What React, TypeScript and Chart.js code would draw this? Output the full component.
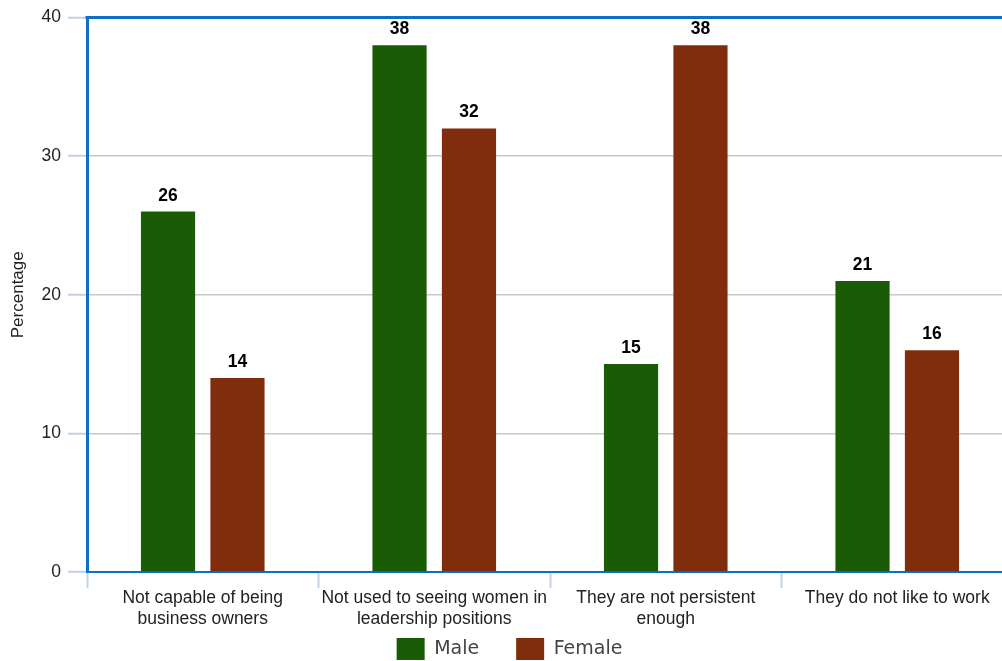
import React, { useEffect, useRef } from "react";
import { Chart, registerables } from "chart.js";

Chart.register(...registerables);

const categories: string[][] = [
  ["Not capable of being", "business owners"],
  ["Not used to seeing women in", "leadership positions"],
  ["They are not persistent", "enough"],
  ["They do not like to work"],
];
const maleValues = [26, 38, 15, 21];
const femaleValues = [14, 32, 38, 16];
const yTicks = [0, 10, 20, 30, 40];
const yTitle = "Percentage";
const seriesNames = ["Male", "Female"];

const BLUE = "#0c70c6";
const TICK_BLUE = "#c3d2e3";
const LEGEND_H = 38;
const LEGEND_BOX_OFFSET = 6;
const LEGEND_X_SHIFT = 3;

const valueLabels = {
  id: "valueLabels",
  afterDatasetsDraw(chart: any) {
    const ctx = chart.ctx;
    ctx.save();
    ctx.font = "bold 17.5px 'Liberation Sans', Arial, sans-serif";
    ctx.fillStyle = "#000";
    ctx.textAlign = "center";
    ctx.textBaseline = "alphabetic";
    chart.data.datasets.forEach((ds: any, di: number) => {
      const meta = chart.getDatasetMeta(di);
      meta.data.forEach((bar: any, i: number) => {
        ctx.fillText(String(ds.data[i]), bar.x, bar.y - 11);
      });
    });
    ctx.restore();
  },
};

const topBorder = {
  id: "topBorder",
  afterDraw(chart: any) {
    const { ctx, chartArea } = chart;
    ctx.save();
    ctx.strokeStyle = BLUE;
    ctx.lineWidth = 3;
    ctx.beginPath();
    ctx.moveTo(chartArea.left - 1.5, chartArea.top);
    ctx.lineTo(chartArea.right, chartArea.top);
    ctx.stroke();
    ctx.restore();
  },
};

const legendLayout = {
  id: "legendLayout",
  beforeLayout(chart: any) {
    const lg = chart.legend;
    if (lg && !lg.__patched) {
      const orig = lg.fit;
      lg.fit = function () {
        orig.call(this);
        this.height = LEGEND_H;
      };
      lg.__patched = true;
    }
  },
  afterLayout(chart: any) {
    const lg = chart.legend;
    if (lg) {
      const pad = lg.options.labels.padding;
      const bottom = lg.bottom;
      lg.top = lg.top + LEGEND_BOX_OFFSET - pad;
      lg.bottom = bottom;
      lg.height = bottom - lg.top;
      lg.left += LEGEND_X_SHIFT;
      lg.right += LEGEND_X_SHIFT;
    }
  },
};

export default function App() {
  const ref = useRef<HTMLCanvasElement>(null);
  useEffect(() => {
    if (!ref.current) return;
    const chart = new Chart(ref.current, {
      type: "bar",
      data: {
        labels: categories,
        datasets: [
          {
            label: seriesNames[0],
            data: maleValues,
            backgroundColor: "#1a5b06",
            categoryPercentage: 0.6,
            barPercentage: 0.78,
          },
          {
            label: seriesNames[1],
            data: femaleValues,
            backgroundColor: "#7f2d0d",
            categoryPercentage: 0.6,
            barPercentage: 0.78,
          },
        ],
      },
      options: {
        animation: false,
        responsive: false,
        devicePixelRatio: 1,
        layout: { padding: { top: 16, right: 6, left: 0, bottom: 0 } },
        plugins: {
          tooltip: { enabled: false },
          legend: {
            position: "bottom",
            labels: {
              boxWidth: 28,
              boxHeight: 22,
              padding: 37,
              color: "#444",
              font: { family: "'DejaVu Sans', sans-serif", size: 19, lineHeight: 1 },
            },
          },
        },
        scales: {
          x: {
            afterFit(scale: any) {
              scale.height = 60;
            },
            grid: {
              display: true,
              drawOnChartArea: false,
              drawTicks: true,
              tickLength: 16,
              tickColor: TICK_BLUE,
              tickWidth: 2,
              offset: true,
            },
            border: { display: true, color: BLUE, width: 2 },
            ticks: {
              color: "#222",
              padding: 0,
              maxRotation: 0,
              autoSkip: false,
              font: { family: "'Liberation Sans', Arial, sans-serif", size: 17.5, lineHeight: 1.2 },
            },
          },
          y: {
            min: 0,
            max: 40,
            afterFit(scale: any) {
              scale.width = 87;
            },
            afterBuildTicks(scale: any) {
              scale.ticks = yTicks.map((v) => ({ value: v }));
            },
            grid: {
              color: "#c8c8c8",
              lineWidth: 1.5,
              tickLength: 19,
              tickColor: TICK_BLUE,
              tickWidth: 2,
            },
            border: { display: true, color: BLUE, width: 3 },
            ticks: {
              color: "#222",
              padding: 7,
              font: { family: "'Liberation Sans', Arial, sans-serif", size: 17.5 },
            },
            title: {
              display: true,
              text: yTitle,
              color: "#222",
              padding: { top: 8, bottom: 0 },
              font: { family: "'Liberation Sans', Arial, sans-serif", size: 17 },
            },
          },
        },
      },
      plugins: [valueLabels, topBorder, legendLayout],
    });
    return () => chart.destroy();
  }, []);
  return (
    <div style={{ position: "fixed", left: 0, top: 0, width: 1019, height: 670, background: "#fff" }}>
      <canvas ref={ref} width={1019} height={670} />
    </div>
  );
}
